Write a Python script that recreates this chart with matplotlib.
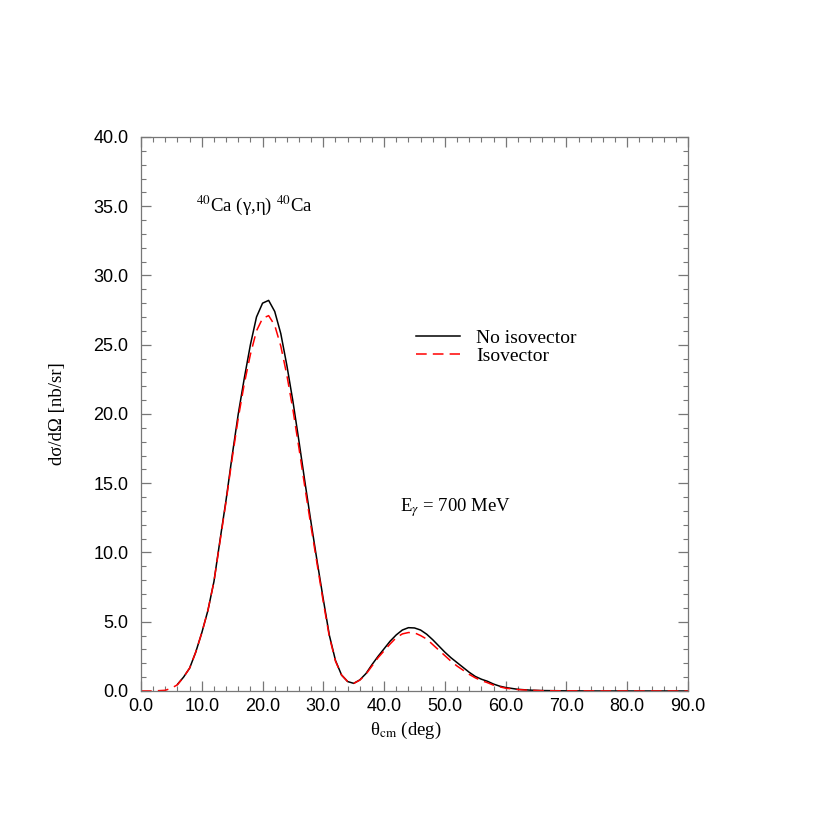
import numpy as np
from matplotlib import pyplot as plt
from matplotlib.ticker import MultipleLocator, FormatStrFormatter

# cross section (deg, nb/sr)
theta_noiso = [6, 7, 8, 9, 10, 11, 12, 13, 14, 15, 16, 17, 18, 19, 20, 21, 22,
               23, 24, 25, 26, 27, 28, 29, 30, 31, 32, 33, 34, 35, 36, 37, 38,
               39, 40, 41, 42, 43, 44, 45, 46, 47, 48, 49, 50, 51, 52, 53, 54,
               55, 56, 57, 58, 59, 60, 62, 64, 66, 70, 75, 80, 90]
sigma_noiso = [0.48, 1.0, 1.65, 2.8, 4.2, 5.8, 7.9, 10.9, 13.8, 17.0, 20.0,
               22.6, 25.0, 27.0, 28.0, 28.2, 27.4, 25.8, 23.5, 20.9, 18.0,
               15.0, 12.1, 9.3, 6.6, 4.0, 2.2, 1.15, 0.68, 0.55, 0.8, 1.25,
               1.9, 2.5, 3.05, 3.6, 4.05, 4.4, 4.57, 4.55, 4.4, 4.1, 3.7, 3.25,
               2.8, 2.4, 2.05, 1.7, 1.35, 1.05, 0.85, 0.7, 0.5, 0.35, 0.25,
               0.12, 0.06, 0.03, 0.01, 0.0, 0.0, 0.0]

theta_iso = [0, 2, 4, 5, 6, 7, 8, 9, 10, 11, 12, 13, 14, 15, 16, 17, 18, 19,
             20, 21, 22, 23, 24, 25, 26, 27, 28, 29, 30, 31, 32, 33, 34, 35,
             36, 37, 38, 39, 40, 41, 42, 43, 44, 45, 46, 47, 48, 49, 50, 51,
             52, 53, 54, 55, 56, 57, 58, 59, 60, 62, 64, 66, 70, 80, 90]
sigma_iso = [0.0, 0.0, 0.05, 0.2, 0.45, 1.0, 1.65, 2.8, 4.2, 5.8, 7.9, 10.8,
             13.7, 16.8, 19.7, 22.2, 24.3, 26.0, 26.9, 27.1, 26.4, 24.9, 22.8,
             20.3, 17.5, 14.6, 11.8, 9.1, 6.4, 3.9, 2.15, 1.15, 0.68, 0.55,
             0.78, 1.2, 1.8, 2.4, 2.9, 3.4, 3.85, 4.12, 4.22, 4.2, 4.0, 3.75,
             3.35, 2.95, 2.55, 2.15, 1.8, 1.5, 1.2, 0.95, 0.75, 0.6, 0.42,
             0.3, 0.2, 0.1, 0.05, 0.02, 0.01, 0.0, 0.0]

plt.rcParams['mathtext.fontset'] = 'stix'
serif = 'Liberation Serif'
sans = 'Liberation Sans'

fig = plt.figure(figsize=(8.3, 8.3), dpi=100)
ax = fig.add_axes([0.1699, 0.1675, 0.659, 0.6675])

ax.plot(theta_noiso, sigma_noiso, color='k', lw=1.1, label='No isovector')
ax.plot(theta_iso, sigma_iso, color='red', lw=1.1, dashes=(7, 4),
        label='Isovector')

ax.set_xlim(0, 90)
ax.set_ylim(0, 40)
ax.xaxis.set_major_locator(MultipleLocator(10))
ax.xaxis.set_minor_locator(MultipleLocator(2))
ax.yaxis.set_major_locator(MultipleLocator(5))
ax.yaxis.set_minor_locator(MultipleLocator(1))
ax.xaxis.set_major_formatter(FormatStrFormatter('%.1f'))
ax.yaxis.set_major_formatter(FormatStrFormatter('%.1f'))
ax.tick_params(which='both', direction='in', top=True, right=True,
               color='#777777', labelsize=13)
ax.tick_params(which='major', length=7, width=0.9)
ax.tick_params(which='minor', length=3.5, width=0.8)
ax.tick_params(axis='x', which='major', pad=5)
ax.tick_params(axis='y', which='major', pad=9)
for lab in ax.get_xticklabels() + ax.get_yticklabels():
    lab.set_fontfamily(sans)
for s in ax.spines.values():
    s.set_color('#777777')
    s.set_linewidth(0.9)

ax.set_xlabel('θ$_{\\rm cm}$ (deg)', fontfamily=serif, fontsize=13.5)
ax.xaxis.set_label_coords(0.485, -0.052)
ax.set_ylabel('dσ/dΩ [nb/sr]', fontfamily=serif, fontsize=13.5)
ax.yaxis.set_label_coords(-0.138, 0.5)

ax.text(0.1, 0.866, '$^{40}$Ca (γ,η) $^{40}$Ca',
        transform=ax.transAxes, fontfamily=serif, fontsize=13.5)
ax.text(0.473, 0.325, 'E$_\\gamma$ = 700 MeV', transform=ax.transAxes,
        fontfamily=serif, fontsize=13.5)

leg = ax.legend(loc='upper left', bbox_to_anchor=(0.47, 0.685), frameon=False,
                handlelength=2.3, handletextpad=0.8, labelspacing=0.05,
                prop={'family': serif, 'size': 14})

fig.savefig('out.png', dpi=100)
